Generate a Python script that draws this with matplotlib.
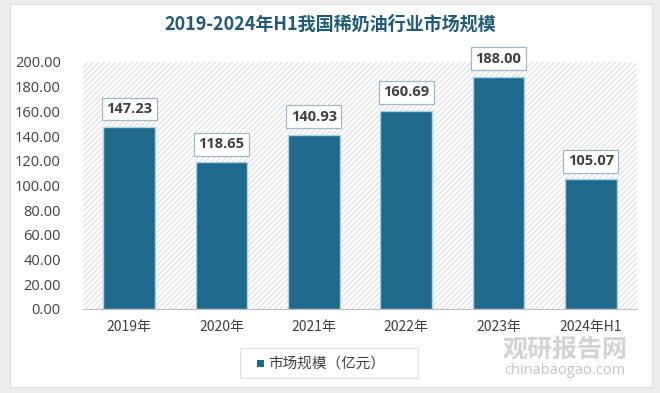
import matplotlib.pyplot as plt
from matplotlib.patches import Rectangle

plt.rcParams['font.family'] = ['Noto Sans CJK SC', 'DejaVu Sans']
plt.rcParams['hatch.color'] = "#dedede"
plt.rcParams['hatch.linewidth'] = 0.8

years = ["2019年", "2020年", "2021年", "2022年", "2023年", "2024年H1"]
market_size = [147.23, 118.65, 140.93, 160.69, 188.00, 105.07]
y_ticks = [0, 20, 40, 60, 80, 100, 120, 140, 160, 180, 200]

bar_color = "#1f6a8c"
title_color = "#1f5a78"

fig = plt.figure(figsize=(6.6, 3.93), dpi=100)
fig.patch.set_facecolor("#ececec")

# white card behind everything
card = Rectangle((10 / 660, 1 - 387 / 393), 642 / 660, 383 / 393,
                 transform=fig.transFigure, facecolor="white",
                 edgecolor="#dddddd", linewidth=0.8, zorder=-2)
fig.patches.append(card)

ax = fig.add_axes([83 / 660, 1 - 309 / 393, 554 / 660, 247 / 393])
ax.set_facecolor("white")
bg = Rectangle((0, 0), 1, 1, transform=ax.transAxes, facecolor="white",
               edgecolor="#dedede", hatch="//////", linewidth=0, zorder=0)
ax.add_patch(bg)

x = range(len(years))
ax.bar(x, market_size, width=0.56, color=bar_color,
       edgecolor="#a9d3e4", linewidth=1.0, zorder=3)

for xi, v in zip(x, market_size):
    ax.annotate(f"{v:.2f}", (xi, v), xytext=(0, 8), textcoords="offset points",
                ha="center", va="bottom", fontsize=10.5, fontweight="bold",
                color="#404040", family=['Open Sans', 'DejaVu Sans'],
                bbox=dict(boxstyle="square,pad=0.3", facecolor="white",
                          edgecolor="#9fb8c4", linewidth=0.9),
                zorder=5)

ax.set_xlim(-0.5, len(years) - 0.5)
ax.set_ylim(0, 200)
ax.set_yticks(y_ticks)
ax.set_yticklabels([f"{t:.2f}" for t in y_ticks], fontsize=10.5,
                   color="#404040", family=['Open Sans', 'DejaVu Sans'])
ax.set_xticks(list(x))
ax.set_xticklabels(years, fontsize=10, color="#404040")
ax.tick_params(axis="x", length=0, pad=8)
ax.tick_params(axis="y", length=0, pad=16)
for s in ["top", "right", "left"]:
    ax.spines[s].set_visible(False)
ax.spines["bottom"].set_color("#bfbfbf")
ax.spines["bottom"].set_zorder(4)

fig.text(0.5, 1 - 24 / 393, "2019-2024年H1我国稀奶油行业市场规模",
         ha="center", va="center", fontsize=13, fontweight="bold",
         color=title_color)

# legend box
fig.patches.append(Rectangle((240 / 660, 1 - 378 / 393), 178 / 660, 30 / 393,
                             transform=fig.transFigure, facecolor="white",
                             edgecolor="#e0e0e0", linewidth=0.8, zorder=2))
fig.patches.append(Rectangle((257 / 660, 1 - 367 / 393), 7 / 660, 7 / 393,
                             transform=fig.transFigure, facecolor=bar_color,
                             edgecolor="none", zorder=3))
fig.text(268 / 660, 1 - 364 / 393, "市场规模（亿元）", ha="left", va="center",
         fontsize=10.5, color="#404040")

# watermark
fig.text(565 / 660, 1 - 350 / 393, "观研报告网", ha="center", va="center",
         fontsize=18, fontweight="bold", color="#c8c8c8", alpha=0.8)
fig.text(565 / 660, 1 - 371 / 393, "chinabaogao.com", ha="center", va="center",
         fontsize=10.5, color="#b5b5b5", alpha=0.8,
         family=['Open Sans', 'DejaVu Sans'])

fig.savefig("out.png", dpi=100, facecolor=fig.get_facecolor())
